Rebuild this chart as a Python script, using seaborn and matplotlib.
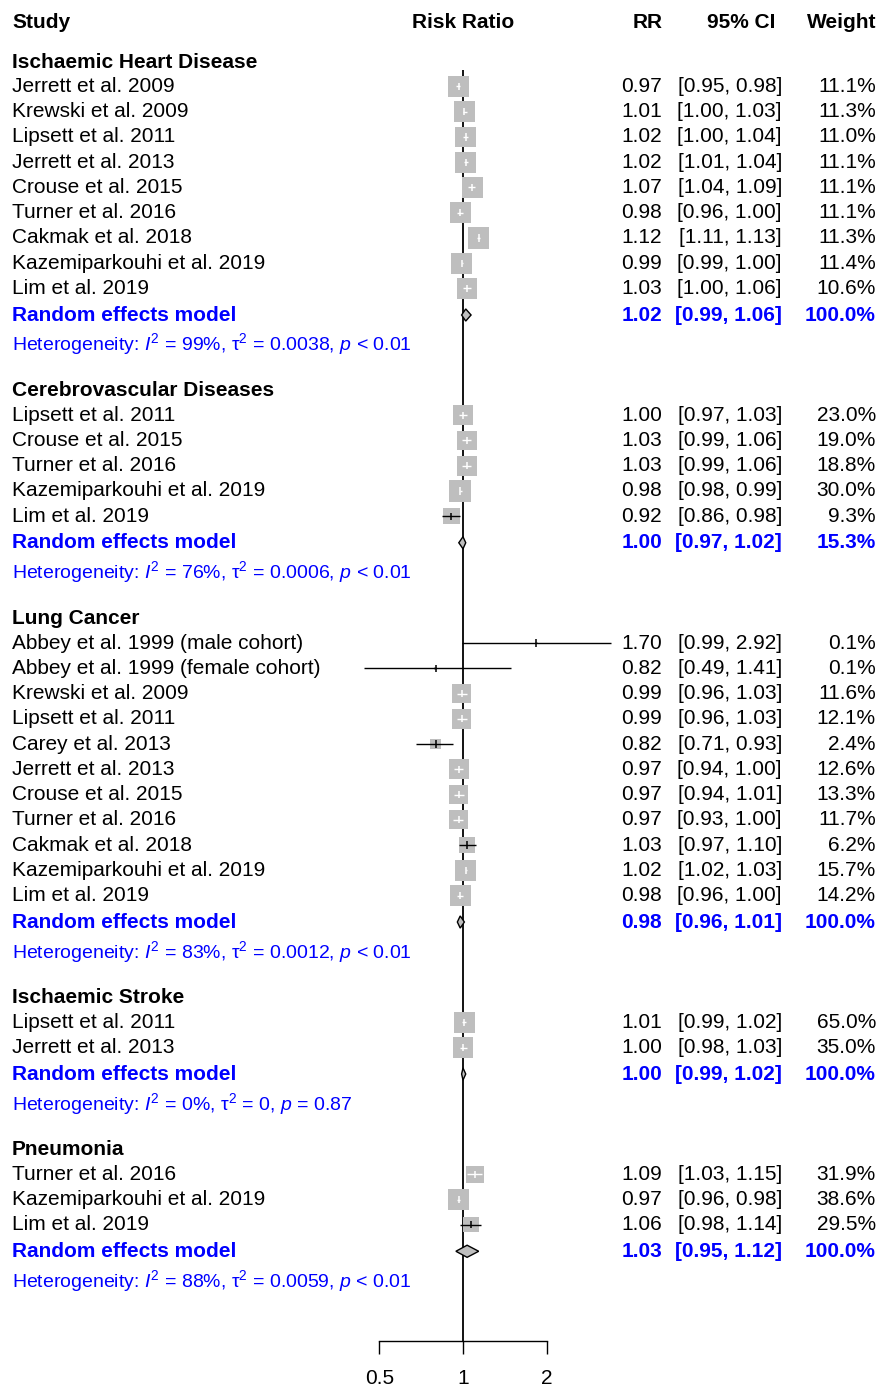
import numpy as np
import matplotlib
matplotlib.use("Agg")
import matplotlib.pyplot as plt
import matplotlib.transforms as mtransforms
from matplotlib.ticker import NullLocator
import seaborn as sns

# ---- data ----
groups = ["Ischaemic Heart Disease", "Cerebrovascular Diseases", "Lung Cancer",
          "Ischaemic Stroke", "Pneumonia"]
group_n = [9, 5, 11, 2, 3]

studies = [
    "Jerrett et al. 2009", "Krewski et al. 2009", "Lipsett et al. 2011", "Jerrett et al. 2013",
    "Crouse et al. 2015", "Turner et al. 2016", "Cakmak et al. 2018",
    "Kazemiparkouhi et al. 2019", "Lim et al. 2019",
    "Lipsett et al. 2011", "Crouse et al. 2015", "Turner et al. 2016",
    "Kazemiparkouhi et al. 2019", "Lim et al. 2019",
    "Abbey et al. 1999 (male cohort)", "Abbey et al. 1999 (female cohort)", "Krewski et al. 2009",
    "Lipsett et al. 2011", "Carey et al. 2013", "Jerrett et al. 2013", "Crouse et al. 2015",
    "Turner et al. 2016", "Cakmak et al. 2018", "Kazemiparkouhi et al. 2019", "Lim et al. 2019",
    "Lipsett et al. 2011", "Jerrett et al. 2013",
    "Turner et al. 2016", "Kazemiparkouhi et al. 2019", "Lim et al. 2019",
]
rr = [0.97, 1.01, 1.02, 1.02, 1.07, 0.98, 1.12, 0.99, 1.03,
      1.00, 1.03, 1.03, 0.98, 0.92,
      1.70, 0.82, 0.99, 0.99, 0.82, 0.97, 0.97, 0.97, 1.03, 1.02, 0.98,
      1.01, 1.00,
      1.09, 0.97, 1.06]
lo = [0.95, 1.00, 1.00, 1.01, 1.04, 0.96, 1.11, 0.99, 1.00,
      0.97, 0.99, 0.99, 0.98, 0.86,
      0.99, 0.49, 0.96, 0.96, 0.71, 0.94, 0.94, 0.93, 0.97, 1.02, 0.96,
      0.99, 0.98,
      1.03, 0.96, 0.98]
hi = [0.98, 1.03, 1.04, 1.04, 1.09, 1.00, 1.13, 1.00, 1.06,
      1.03, 1.06, 1.06, 0.99, 0.98,
      2.92, 1.41, 1.03, 1.03, 0.93, 1.00, 1.01, 1.00, 1.10, 1.03, 1.00,
      1.02, 1.03,
      1.15, 0.98, 1.14]
weight = [11.1, 11.3, 11.0, 11.1, 11.1, 11.1, 11.3, 11.4, 10.6,
          23.0, 19.0, 18.8, 30.0, 9.3,
          0.1, 0.1, 11.6, 12.1, 2.4, 12.6, 13.3, 11.7, 6.2, 15.7, 14.2,
          65.0, 35.0,
          31.9, 38.6, 29.5]

re_rr = [1.02, 1.00, 0.98, 1.00, 1.03]
re_lo = [0.99, 0.97, 0.96, 0.99, 0.95]
re_hi = [1.06, 1.02, 1.01, 1.02, 1.12]
re_weight = [100.0, 15.3, 100.0, 100.0, 100.0]
i2 = [99, 76, 83, 0, 88]
tau2 = ["0.0038", "0.0006", "0.0012", "0", "0.0059"]
pval = ["< 0.01", "< 0.01", "< 0.01", "= 0.87", "< 0.01"]

xticks = [0.5, 1, 2]
xticklabels = ["0.5", "1", "2"]

# ---- style ----
sns.set_style("white")
plt.rcParams["font.family"] = ["Liberation Sans", "DejaVu Sans"]
plt.rcParams["text.color"] = "black"
plt.rcParams["xtick.color"] = "black"
plt.rcParams["mathtext.fontset"] = "custom"
plt.rcParams["mathtext.rm"] = "Liberation Sans"
plt.rcParams["mathtext.it"] = "Liberation Sans:italic"
plt.rcParams["mathtext.bf"] = "Liberation Sans:bold"

BLUE = "#0000FF"
GREY = "#BEBEBE"
FS = 15
FS_HET = 14

W, H = 879, 1386
ROW = 25.25

fig = plt.figure(figsize=(W / 100, H / 100), dpi=100)
ax = fig.add_axes([0, 0, 1, 1])
ax.set_xscale("log", base=2)
ax.set_xlim(2 ** (-463 / 96), 2 ** ((W - 463) / 96))
ax.set_ylim((H - 22) / ROW, -22 / ROW)
ax.axis("off")

tcol = mtransforms.blended_transform_factory(ax.transAxes, ax.transData)
x_study = 12 / W
x_rr = 662 / W
x_ci = 782 / W
x_w = 876 / W

# header
ax.text(x_study, 0, "Study", transform=tcol, fontsize=FS, fontweight="bold", va="center")
ax.text(1, 0, "Risk Ratio", fontsize=FS, fontweight="bold", va="center", ha="center")
ax.text(663 / W, 0, "RR", transform=tcol, fontsize=FS, fontweight="bold", va="center", ha="right")
ax.text(775 / W, 0, "95% CI", transform=tcol, fontsize=FS, fontweight="bold", va="center", ha="right")
ax.text(x_w, 0, "Weight", transform=tcol, fontsize=FS, fontweight="bold", va="center", ha="right")

cur = (62 - 22) / ROW
first_heading = cur
k = 0
het_y = cur
for g, name in enumerate(groups):
    ax.text(x_study, cur, name, transform=tcol, fontsize=FS, fontweight="bold", va="center")
    y = cur + 0.97
    for j in range(group_n[g]):
        i = k + j
        ax.text(x_study, y, studies[i], transform=tcol, fontsize=FS, va="center")
        ax.text(x_rr, y, f"{rr[i]:.2f}", transform=tcol, fontsize=FS, va="center", ha="right")
        ax.text(x_ci, y, f"[{lo[i]:.2f}, {hi[i]:.2f}]", transform=tcol, fontsize=FS,
                va="center", ha="right")
        ax.text(x_w, y, f"{weight[i]:.1f}%", transform=tcol, fontsize=FS, va="center", ha="right")

        # square area from study precision
        se = (np.log(hi[i]) - np.log(lo[i])) / 3.92
        side = 21.5 * np.sqrt(0.0015 / (se ** 2 + 0.0015))
        ax.scatter([rr[i]], [y], marker="s", s=(side * 0.72) ** 2, color=GREY,
                   edgecolors="none", zorder=2)
        px_lo = ax.transData.transform((lo[i], y))[0]
        px_hi = ax.transData.transform((hi[i], y))[0]
        col = "white" if (px_hi - px_lo) < side else "black"
        ax.hlines(y, lo[i], hi[i], color=col, lw=1.0, zorder=3)
        ax.vlines(rr[i], y - 0.14, y + 0.14, color=col, lw=1.1, zorder=3)
        y += 1
    k += group_n[g]

    re_y = y - 1 + 1.05
    ax.text(x_study, re_y, "Random effects model", transform=tcol, fontsize=FS,
            fontweight="bold", color=BLUE, va="center")
    ax.text(x_rr, re_y, f"{re_rr[g]:.2f}", transform=tcol, fontsize=FS, fontweight="bold",
            color=BLUE, va="center", ha="right")
    ax.text(x_ci, re_y, f"[{re_lo[g]:.2f}, {re_hi[g]:.2f}]", transform=tcol, fontsize=FS,
            fontweight="bold", color=BLUE, va="center", ha="right")
    ax.text(x_w, re_y, f"{re_weight[g]:.1f}%", transform=tcol, fontsize=FS, fontweight="bold",
            color=BLUE, va="center", ha="right")
    ax.fill([re_lo[g], re_rr[g], re_hi[g], re_rr[g]],
            [re_y, re_y - 0.24, re_y, re_y + 0.24],
            facecolor=GREY, edgecolor="black", lw=1.0, zorder=3)

    het_y = re_y + 1.17
    ax.text(x_study, het_y,
            f"Heterogeneity: $I^2$ = {i2[g]}%, τ$^2$ = {tau2[g]}, $p$ {pval[g]}",
            transform=tcol, fontsize=FS_HET, color=BLUE, va="center")
    cur = re_y + 3.0

axis_y = het_y + 2.38

# reference line at RR = 1
ax.vlines(1, first_heading + 0.32, axis_y, color="black", lw=1.3, zorder=1)

# x axis (drawn on its own log scale, as in the reference)
ax2 = fig.add_axes([0, 0, 1, 1], facecolor="none")
ax2.set_xscale("log", base=2)
ax2.set_xlim(2 ** (-463 / 83.6), 2 ** ((W - 463) / 83.6))
ax2.set_ylim(ax.get_ylim())
for sp in ["left", "right", "top"]:
    ax2.spines[sp].set_visible(False)
ax2.spines["bottom"].set_position(("data", axis_y))
ax2.spines["bottom"].set_bounds(xticks[0], xticks[-1])
ax2.spines["bottom"].set_linewidth(1.0)
ax2.spines["bottom"].set_color("black")
ax2.set_yticks([])
ax2.set_xticks(xticks)
ax2.set_xticklabels(xticklabels)
ax2.xaxis.set_minor_locator(NullLocator())
ax2.tick_params(axis="x", direction="out", length=9, width=1.0, pad=11,
                labelsize=FS, colors="black", bottom=True)

fig.savefig("out.png", dpi=100)
